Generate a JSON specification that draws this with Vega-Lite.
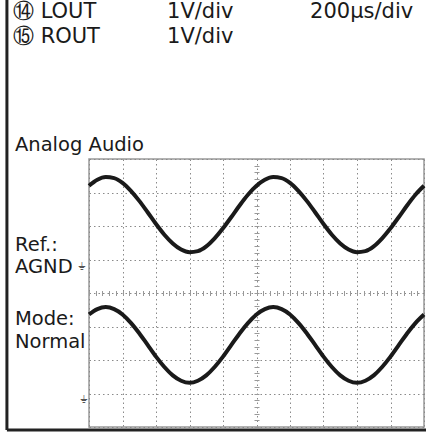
{
  "$schema": "https://vega.github.io/schema/vega-lite/v6.json",
  "width": 335,
  "height": 268,
  "autosize": {"type": "none"},
  "padding": {"left": 89, "top": 159, "right": 2, "bottom": 12},
  "background": "white",
  "config": {"view": {"stroke": "#999", "strokeWidth": 1.5}},
  "datasets": {
    "trace": [
      {"t":0,"v":3.20,"ch":"LOUT"},{"t":0.25,"v":3.38,"ch":"LOUT"},{"t":0.5,"v":3.46,"ch":"LOUT"},{"t":0.75,"v":3.43,"ch":"LOUT"},{"t":1,"v":3.29,"ch":"LOUT"},{"t":1.25,"v":3.05,"ch":"LOUT"},{"t":1.5,"v":2.75,"ch":"LOUT"},{"t":1.75,"v":2.41,"ch":"LOUT"},{"t":2,"v":2.06,"ch":"LOUT"},{"t":2.25,"v":1.74,"ch":"LOUT"},{"t":2.5,"v":1.48,"ch":"LOUT"},{"t":2.75,"v":1.30,"ch":"LOUT"},{"t":3,"v":1.22,"ch":"LOUT"},{"t":3.25,"v":1.25,"ch":"LOUT"},{"t":3.5,"v":1.39,"ch":"LOUT"},{"t":3.75,"v":1.63,"ch":"LOUT"},{"t":4,"v":1.93,"ch":"LOUT"},{"t":4.25,"v":2.27,"ch":"LOUT"},{"t":4.5,"v":2.62,"ch":"LOUT"},{"t":4.75,"v":2.94,"ch":"LOUT"},
      {"t":5,"v":3.20,"ch":"LOUT"},{"t":5.25,"v":3.38,"ch":"LOUT"},{"t":5.5,"v":3.46,"ch":"LOUT"},{"t":5.75,"v":3.43,"ch":"LOUT"},{"t":6,"v":3.29,"ch":"LOUT"},{"t":6.25,"v":3.05,"ch":"LOUT"},{"t":6.5,"v":2.75,"ch":"LOUT"},{"t":6.75,"v":2.41,"ch":"LOUT"},{"t":7,"v":2.06,"ch":"LOUT"},{"t":7.25,"v":1.74,"ch":"LOUT"},{"t":7.5,"v":1.48,"ch":"LOUT"},{"t":7.75,"v":1.30,"ch":"LOUT"},{"t":8,"v":1.22,"ch":"LOUT"},{"t":8.25,"v":1.25,"ch":"LOUT"},{"t":8.5,"v":1.39,"ch":"LOUT"},{"t":8.75,"v":1.63,"ch":"LOUT"},{"t":9,"v":1.93,"ch":"LOUT"},{"t":9.25,"v":2.27,"ch":"LOUT"},{"t":9.5,"v":2.62,"ch":"LOUT"},{"t":9.75,"v":2.94,"ch":"LOUT"},{"t":10,"v":3.20,"ch":"LOUT"},
      {"t":0,"v":-0.64,"ch":"ROUT"},{"t":0.25,"v":-0.48,"ch":"ROUT"},{"t":0.5,"v":-0.42,"ch":"ROUT"},{"t":0.75,"v":-0.48,"ch":"ROUT"},{"t":1,"v":-0.64,"ch":"ROUT"},{"t":1.25,"v":-0.89,"ch":"ROUT"},{"t":1.5,"v":-1.20,"ch":"ROUT"},{"t":1.75,"v":-1.55,"ch":"ROUT"},{"t":2,"v":-1.90,"ch":"ROUT"},{"t":2.25,"v":-2.21,"ch":"ROUT"},{"t":2.5,"v":-2.46,"ch":"ROUT"},{"t":2.75,"v":-2.62,"ch":"ROUT"},{"t":3,"v":-2.68,"ch":"ROUT"},{"t":3.25,"v":-2.62,"ch":"ROUT"},{"t":3.5,"v":-2.46,"ch":"ROUT"},{"t":3.75,"v":-2.21,"ch":"ROUT"},{"t":4,"v":-1.90,"ch":"ROUT"},{"t":4.25,"v":-1.55,"ch":"ROUT"},{"t":4.5,"v":-1.20,"ch":"ROUT"},{"t":4.75,"v":-0.89,"ch":"ROUT"},
      {"t":5,"v":-0.64,"ch":"ROUT"},{"t":5.25,"v":-0.48,"ch":"ROUT"},{"t":5.5,"v":-0.42,"ch":"ROUT"},{"t":5.75,"v":-0.48,"ch":"ROUT"},{"t":6,"v":-0.64,"ch":"ROUT"},{"t":6.25,"v":-0.89,"ch":"ROUT"},{"t":6.5,"v":-1.20,"ch":"ROUT"},{"t":6.75,"v":-1.55,"ch":"ROUT"},{"t":7,"v":-1.90,"ch":"ROUT"},{"t":7.25,"v":-2.21,"ch":"ROUT"},{"t":7.5,"v":-2.46,"ch":"ROUT"},{"t":7.75,"v":-2.62,"ch":"ROUT"},{"t":8,"v":-2.68,"ch":"ROUT"},{"t":8.25,"v":-2.62,"ch":"ROUT"},{"t":8.5,"v":-2.46,"ch":"ROUT"},{"t":8.75,"v":-2.21,"ch":"ROUT"},{"t":9,"v":-1.90,"ch":"ROUT"},{"t":9.25,"v":-1.55,"ch":"ROUT"},{"t":9.5,"v":-1.20,"ch":"ROUT"},{"t":9.75,"v":-0.89,"ch":"ROUT"},{"t":10,"v":-0.64,"ch":"ROUT"}
    ],
    "header": [
      {"t":-2.27,"v":8.21,"label":"⑭ LOUT"},
      {"t":2.33,"v":8.21,"label":"1V/div"},
      {"t":6.6,"v":8.21,"label":"200µs/div"},
      {"t":-2.27,"v":7.46,"label":"⑮ ROUT"},
      {"t":2.33,"v":7.46,"label":"1V/div"}
    ],
    "side": [
      {"t":-2.21,"v":4.24,"label":"Analog Audio"},
      {"t":-2.21,"v":1.25,"label":"Ref.:"},
      {"t":-2.21,"v":0.6,"label":"AGND"},
      {"t":-2.21,"v":-0.97,"label":"Mode:"},
      {"t":-2.21,"v":-1.64,"label":"Normal"}
    ],
    "marker": [
      {"t":-0.2,"v":0.78,"label":"⏚"},
      {"t":-0.15,"v":-3.2,"label":"⏚"}
    ],
    "frameV": [{"t":-2.45,"v":-4.09,"v2":8.75}],
    "frameH": [{"t":-2.45,"t2":10.06,"v":-4.09}]
  },
  "layer": [
    {
      "data": {"name": "trace"},
      "mark": {"type": "line", "color": "#1a1a1a", "strokeWidth": 4, "interpolate": "monotone"},
      "encoding": {
        "x": {"field": "t", "type": "quantitative", "scale": {"domain": [0, 10], "nice": false, "zero": false},
          "axis": {"values": [0,1,2,3,4,5,6,7,8,9,10], "grid": true, "gridDash": [1.5, 3], "gridColor": "#8a8a8a", "gridWidth": 1, "labels": false, "ticks": false, "domain": false, "title": null}},
        "y": {"field": "v", "type": "quantitative", "scale": {"domain": [-4, 4], "nice": false, "zero": false},
          "axis": {"values": [-4,-3,-2,-1,0,1,2,3,4], "grid": true, "gridDash": [1.5, 3], "gridColor": "#8a8a8a", "gridWidth": 1, "labels": false, "ticks": false, "domain": false, "title": null}},
        "detail": {"field": "ch"}
      }
    },
    {
      "data": {"name": "frameV"},
      "mark": {"type": "rule", "color": "#222", "strokeWidth": 3},
      "encoding": {
        "x": {"field": "t", "type": "quantitative",
          "axis": {"orient": "bottom", "offset": -136.5, "values": [0,0.2,0.4,0.6,0.8,1,1.2,1.4,1.6,1.8,2,2.2,2.4,2.6,2.8,3,3.2,3.4,3.6,3.8,4,4.2,4.4,4.6,4.8,5,5.2,5.4,5.6,5.8,6,6.2,6.4,6.6,6.8,7,7.2,7.4,7.6,7.8,8,8.2,8.4,8.6,8.8,9,9.2,9.4,9.6,9.8,10], "tickSize": 5, "tickColor": "#999", "tickWidth": 1, "labels": false, "domain": false, "grid": false, "title": null}},
        "y": {"field": "v", "type": "quantitative",
          "axis": {"orient": "left", "offset": -170, "values": [-4,-3.8,-3.6,-3.4,-3.2,-3,-2.8,-2.6,-2.4,-2.2,-2,-1.8,-1.6,-1.4,-1.2,-1,-0.8,-0.6,-0.4,-0.2,0,0.2,0.4,0.6,0.8,1,1.2,1.4,1.6,1.8,2,2.2,2.4,2.6,2.8,3,3.2,3.4,3.6,3.8,4], "tickSize": 5, "tickColor": "#999", "tickWidth": 1, "labels": false, "domain": false, "grid": false, "title": null}},
        "y2": {"field": "v2"}
      }
    },
    {
      "data": {"name": "frameH"},
      "mark": {"type": "rule", "color": "#222", "strokeWidth": 3},
      "encoding": {
        "x": {"field": "t", "type": "quantitative", "axis": null},
        "x2": {"field": "t2"},
        "y": {"field": "v", "type": "quantitative", "axis": null}
      }
    },
    {
      "data": {"name": "header"},
      "mark": {"type": "text", "align": "left", "baseline": "alphabetic", "font": "DejaVu Sans", "fontSize": 21, "color": "#1a1a1a"},
      "encoding": {
        "x": {"field": "t", "type": "quantitative", "axis": null},
        "y": {"field": "v", "type": "quantitative", "axis": null},
        "text": {"field": "label"}
      }
    },
    {
      "data": {"name": "side"},
      "mark": {"type": "text", "align": "left", "baseline": "alphabetic", "font": "DejaVu Sans", "fontSize": 19.5, "color": "#1a1a1a"},
      "encoding": {
        "x": {"field": "t", "type": "quantitative", "axis": null},
        "y": {"field": "v", "type": "quantitative", "axis": null},
        "text": {"field": "label"}
      }
    },
    {
      "data": {"name": "marker"},
      "mark": {"type": "text", "align": "center", "baseline": "middle", "font": "DejaVu Sans", "fontSize": 11, "color": "#555"},
      "encoding": {
        "x": {"field": "t", "type": "quantitative", "axis": null},
        "y": {"field": "v", "type": "quantitative", "axis": null},
        "text": {"field": "label"}
      }
    }
  ],
  "resolve": {"axis": {"x": "independent", "y": "independent"}}
}
